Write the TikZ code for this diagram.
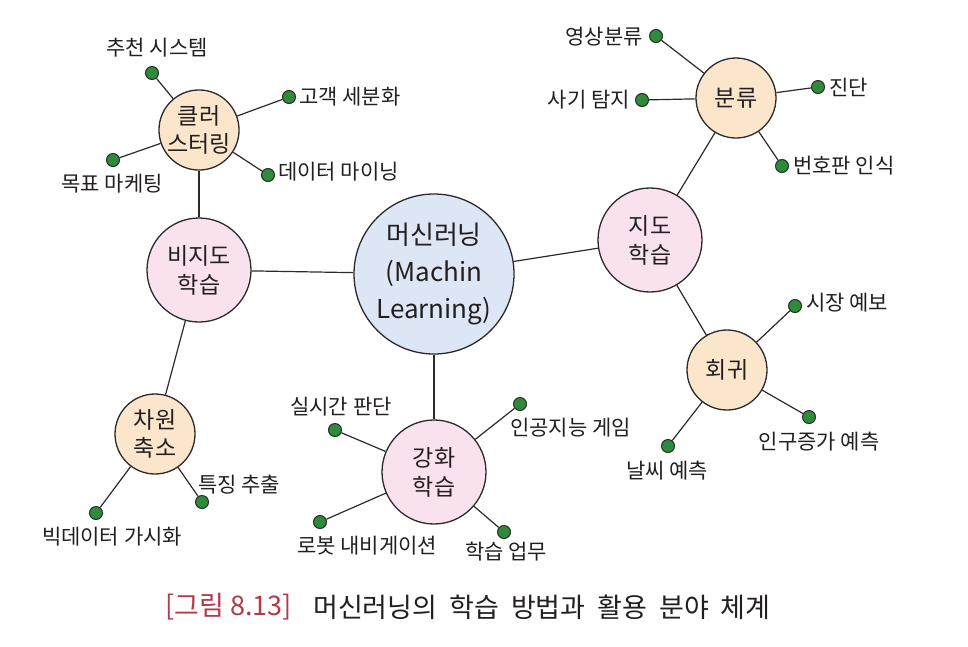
\documentclass[tikz,border=0pt]{standalone}
\usepackage{fontspec}
\setmainfont{Noto Sans CJK KR}
\definecolor{linec}{HTML}{2B2B2B}
\definecolor{txtc}{HTML}{231F20}
\definecolor{mainfill}{HTML}{DDE6F5}
\definecolor{pinkfill}{HTML}{FAE1EE}
\definecolor{peachfill}{HTML}{FCE6CB}
\definecolor{dotfill}{HTML}{2E8B3A}
\definecolor{capred}{HTML}{B3384A}
\begin{document}
\begin{tikzpicture}[x=1pt,y=-1pt,
  circ/.style={circle,draw=linec,line width=1.3pt,inner sep=0pt,align=center,text=txtc},
  mainnode/.style={circ,fill=mainfill,minimum size=160pt,font=\fontsize{26}{37}\selectfont},
  bignode/.style={circ,fill=pinkfill,minimum size=104pt,font=\fontsize{23}{29}\selectfont},
  smallnode/.style={circ,fill=peachfill,minimum size=80pt,font=\fontsize{23}{28}\selectfont},
  gdot/.style={circle,draw=linec,line width=1pt,fill=dotfill,minimum size=13pt,inner sep=0pt},
  lbl/.style={inner sep=0pt,text=txtc,font=\fontsize{21}{24}\selectfont},
  edge/.style={draw=linec,line width=1.2pt}]
\useasboundingbox (0,0) rectangle (968,646);
\fill[white] (0,0) rectangle (968,646);

% main nodes
\node[mainnode] (ml) at (434,274) {머신러닝\\(Machin\\Learning)};
\node[bignode] (unsup) at (199,270) {비지도\\학습};
\node[bignode] (sup) at (650,240) {지도\\학습};
\node[bignode] (rl) at (434,472) {강화\\학습};
\node[smallnode] (clu) at (199,130) {클러\\스터링};
\node[smallnode] (dim) at (155,434) {차원\\축소};
\node[smallnode] (cls) at (736,98) {분류};
\node[smallnode] (reg) at (727,370) {회귀};

% dots
\node[gdot] (d1) at (152,73) {};
\node[gdot] (d2) at (289,97) {};
\node[gdot] (d3) at (268,175) {};
\node[gdot] (d4) at (113,160) {};
\node[gdot] (d5) at (656,36) {};
\node[gdot] (d6) at (642,100) {};
\node[gdot] (d7) at (818,87) {};
\node[gdot] (d8) at (782,166) {};
\node[gdot] (d9) at (795,306) {};
\node[gdot] (d10) at (809,417) {};
\node[gdot] (d11) at (668,446) {};
\node[gdot] (d12) at (335,430) {};
\node[gdot] (d13) at (520,404) {};
\node[gdot] (d14) at (320,522) {};
\node[gdot] (d15) at (504,532) {};
\node[gdot] (d16) at (96,513) {};
\node[gdot] (d17) at (202,502) {};

% labels
\node[lbl] (l1) at (157,48) {추천 시스템};
\node[lbl,anchor=west] (l2) at (299,97) {고객 세분화};
\node[lbl,anchor=west] (l3) at (278,172) {데이터 마이닝};
\node[lbl] (l4) at (112,184) {목표 마케팅};
\node[lbl,anchor=east] (l5) at (643,37) {영상분류};
\node[lbl,anchor=east] (l6) at (630,100) {사기 탐지};
\node[lbl,anchor=west] (l7) at (829,87) {진단};
\node[lbl,anchor=west] (l8) at (793,166) {번호판 인식};
\node[lbl,anchor=west] (l9) at (806,303) {시장 예보};
\node[lbl] (l10) at (819,442) {인구증가 예측};
\node[lbl] (l11) at (667,471) {날씨 예측};
\node[lbl] (l12) at (341,407) {실시간 판단};
\node[lbl,anchor=west] (l13) at (510,428) {인공지능 게임};
\node[lbl] (l14) at (367,546) {로봇 내비게이션};
\node[lbl] (l15) at (506,552) {학습 업무};
\node[lbl] (l16) at (112,537) {빅데이터 가시화};
\node[lbl,anchor=west] (l17) at (198,485) {특징 추출};

% edges
\draw[edge] (ml) -- (unsup);
\draw[edge] (ml) -- (sup);
\draw[edge] (ml) -- (rl);
\draw[edge] (unsup) -- (clu);
\draw[edge] (unsup) -- (dim);
\draw[edge] (sup) -- (cls);
\draw[edge] (sup) -- (reg);
\foreach \d in {d1,d2,d3,d4} \draw[edge] (clu) -- (\d);
\foreach \d in {d5,d6,d7,d8} \draw[edge] (cls) -- (\d);
\foreach \d in {d9,d10,d11} \draw[edge] (reg) -- (\d);
\foreach \d in {d12,d13,d14,d15} \draw[edge] (rl) -- (\d);
\foreach \d in {d16,d17} \draw[edge] (dim) -- (\d);

% caption
\node[inner sep=0pt,anchor=west,text=capred,font=\fontsize{27}{32}\selectfont] (cap1) at (165,607) {[그림 8.13]};
\node[inner sep=0pt,anchor=west,text=txtc,font=\fontsize{27}{32}\selectfont] (cap2) at (313,607) {\spaceskip=12pt 머신러닝의 학습 방법과 활용 분야 체계};
\end{tikzpicture}
\end{document}
